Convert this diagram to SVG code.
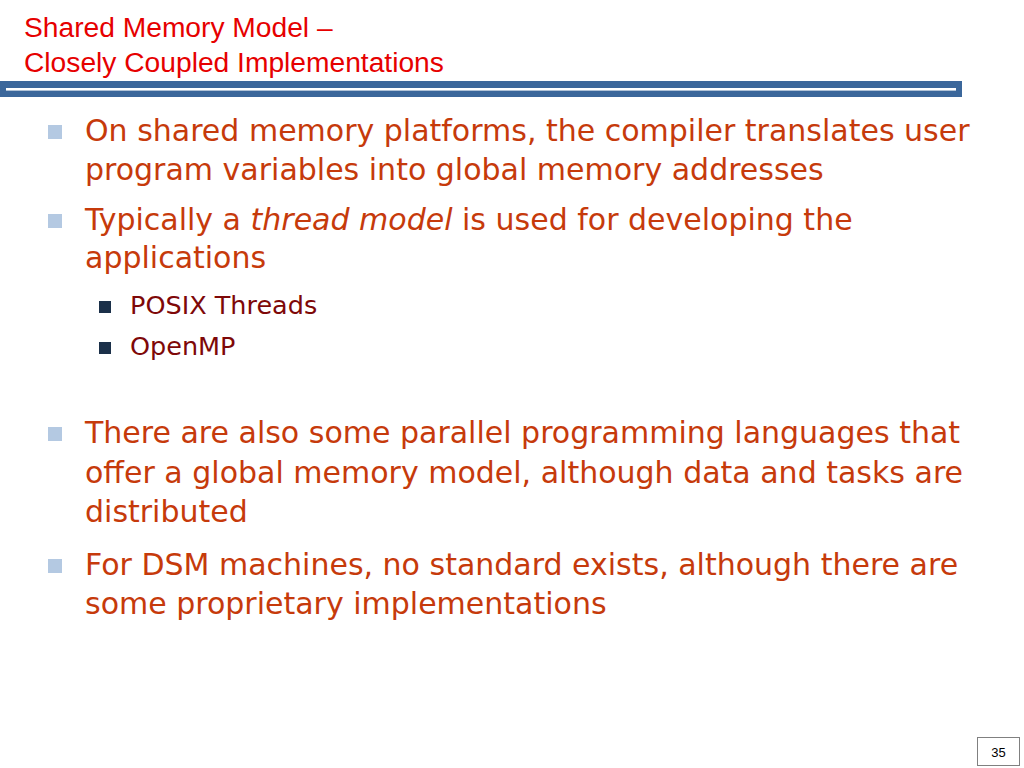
<svg xmlns="http://www.w3.org/2000/svg" width="1024" height="768" viewBox="0 0 1024 768">
<style>
.title{font-family:"Liberation Sans",Arial,sans-serif;font-size:28.2px;fill:#E60000}
.main{font-family:"DejaVu Sans",sans-serif;font-size:30px;fill:#C63A0B}
.sub{font-family:"DejaVu Sans",sans-serif;font-size:25.5px;fill:#7E0808}
.b1{fill:#B4C9E2}
.b2{fill:#1B3049}
</style>
<rect width="1024" height="768" fill="#FFFFFF"/>
<g id="title">
<text class="title" x="24" y="37">Shared Memory Model –</text>
<text class="title" x="24" y="72">Closely Coupled Implementations</text>
</g>
<g id="header-bar">
<rect x="0" y="81" width="962" height="16" fill="#3B679B"/>
<rect x="6" y="88" width="950" height="2.6" fill="#FFFFFF"/>
</g>
<g id="bullets">
<rect class="b1" x="48" y="125" width="14" height="14"/>
<text class="main" x="85" y="141">On shared memory platforms, the compiler translates user</text>
<text class="main" x="85" y="180">program variables into global memory addresses</text>
<rect class="b1" x="48" y="214" width="14" height="14"/>
<text class="main" x="85" y="230">Typically a <tspan font-style="italic">thread model</tspan> is used for developing the</text>
<text class="main" x="85" y="268">applications</text>
<rect class="b2" x="99" y="301" width="12" height="12"/>
<text class="sub" x="130" y="314">POSIX Threads</text>
<rect class="b2" x="99" y="342" width="12" height="12"/>
<text class="sub" x="130" y="355">OpenMP</text>
<rect class="b1" x="48" y="427" width="14" height="14"/>
<text class="main" x="85" y="443">There are also some parallel programming languages that</text>
<text class="main" x="85" y="483">offer a global memory model, although data and tasks are</text>
<text class="main" x="85" y="522">distributed</text>
<rect class="b1" x="48" y="559" width="14" height="14"/>
<text class="main" x="85" y="575">For DSM machines, no standard exists, although there are</text>
<text class="main" x="85" y="614">some proprietary implementations</text>
</g>
<g id="page-number">
<rect x="977.5" y="737.5" width="42" height="28" fill="#FFFFFF" stroke="#808080" stroke-width="1"/>
<text x="998.5" y="757" text-anchor="middle" font-family="Liberation Sans,Arial,sans-serif" font-size="13" fill="#000000">35</text>
</g>
</svg>
